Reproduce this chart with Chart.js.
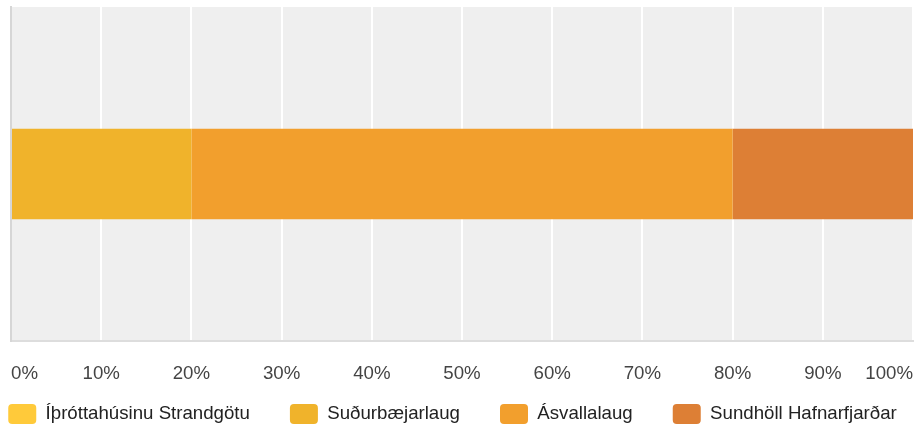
<!DOCTYPE html>
<html>
<head>
<meta charset="utf-8">
<script src="https://cdn.jsdelivr.net/npm/chart.js@4/dist/chart.umd.min.js"></script>
<style>
  html, body { margin: 0; padding: 0; background: #ffffff; }
  #wrap { width: 916px; height: 428px; position: relative; }
</style>
</head>
<body>
<div id="wrap"><canvas id="c"></canvas></div>
<script>
const categories = [''];
const seriesNames = ['Íþróttahúsinu Strandgötu', 'Suðurbæjarlaug', 'Ásvallalaug', 'Sundhöll Hafnarfjarðar'];
const strandgotu = [0];
const sudurbaejarlaug = [20];
const asvallalaug = [60];
const sundhollHafnarfjardar = [20];
const tickValues = [0, 10, 20, 30, 40, 50, 60, 70, 80, 90, 100];
const seriesColors = ['#FFCA3A', '#F0B32B', '#F29F2D', '#DD7F35'];

const seriesValues = [strandgotu, sudurbaejarlaug, asvallalaug, sundhollHafnarfjardar];

const FONT = "'Liberation Sans', Arial, Helvetica, sans-serif";

const plotBg = {
  id: 'plotBg',
  beforeDraw(chart) {
    const a = chart.chartArea;
    const ctx = chart.ctx;
    ctx.save();
    ctx.fillStyle = '#EFEFEF';
    ctx.fillRect(a.left, a.top, a.right - a.left, a.bottom - a.top);
    ctx.restore();
  }
};

new Chart(document.getElementById('c'), {
  type: 'bar',
  data: {
    labels: categories,
    datasets: seriesNames.map((name, i) => ({
      label: name,
      data: seriesValues[i],
      backgroundColor: seriesColors[i],
      borderWidth: 0,
      yAxisID: 'y',
      categoryPercentage: 1,
      barPercentage: 0.2715
    }))
  },
  options: {
    indexAxis: 'y',
    responsive: true,
    maintainAspectRatio: false,
    animation: false,
    devicePixelRatio: 1,
    layout: { padding: { top: 7, left: -40, right: -29, bottom: -6 } },
    plugins: {
      legend: {
        position: 'bottom',
        align: 'center',
        labels: {
          boxWidth: 28,
          boxHeight: 20,
          useBorderRadius: true,
          borderRadius: 4,
          padding: 40,
          color: '#222222',
          font: { family: FONT, size: 18.67 }
        }
      },
      tooltip: { enabled: false }
    },
    scales: {
      x: {
        stacked: true,
        min: 0,
        max: 100,
        afterBuildTicks: (s) => { s.ticks = tickValues.map(v => ({ value: v })); },
        afterFit: (s) => {
          s.height = 23;
          s.paddingLeft = 0; s.paddingRight = 0; s.paddingTop = 0; s.paddingBottom = 0;
        },
        grid: { color: '#FFFFFF', lineWidth: 2, drawTicks: false },
        border: { display: true, color: '#DDDDDD', width: 2 },
        ticks: {
          align: 'inner',
          mirror: true,
          padding: -44,
          color: '#444444',
          font: { family: FONT, size: 18.67 },
          maxRotation: 0,
          autoSkip: false,
          callback: (v) => v + '%'
        }
      },
      y: {
        stacked: true,
        position: 'left',
        afterFit: (s) => { s.width = 51; },
        grid: { display: false, drawTicks: false },
        border: { display: true, color: '#D6D6D6', width: 2 },
        ticks: { display: false }
      },
      yR: {
        type: 'linear',
        position: 'right',
        afterFit: (s) => { s.width = 32; },
        grid: { display: false, drawTicks: false },
        border: { display: false },
        ticks: { display: false }
      }
    }
  },
  plugins: [plotBg]
});
</script>
</body>
</html>
